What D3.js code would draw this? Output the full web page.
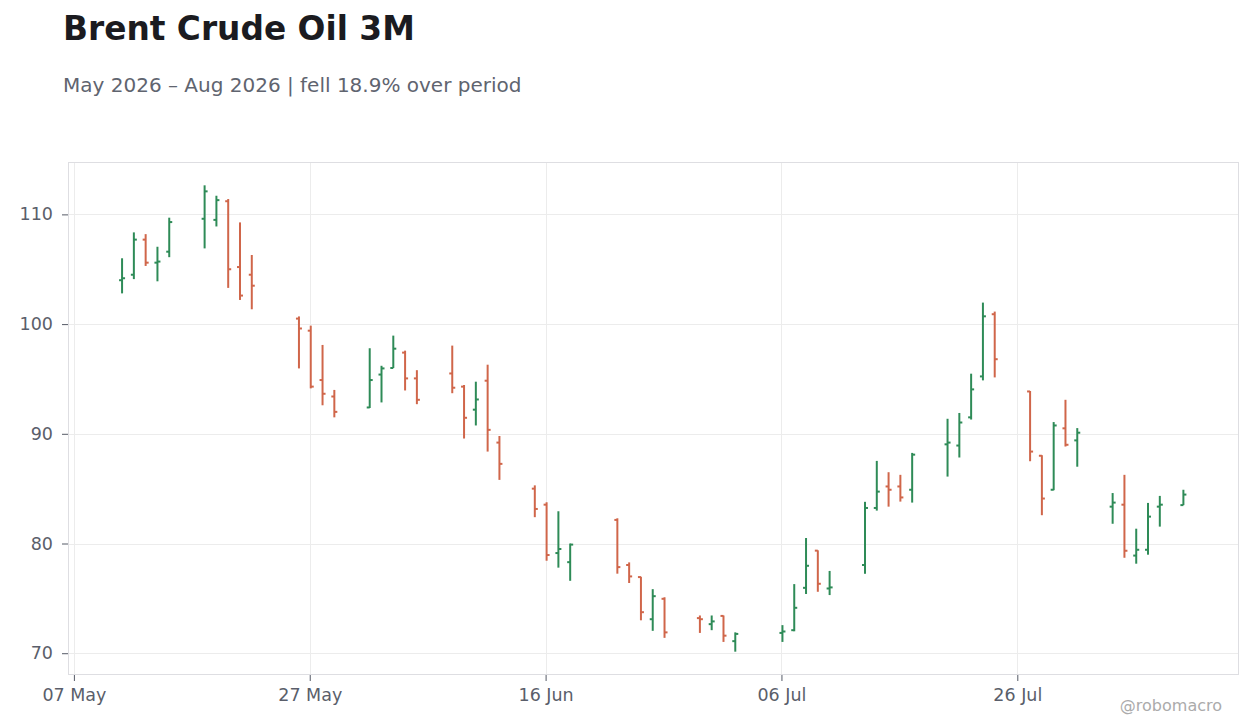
<!DOCTYPE html>
<html>
<head>
<meta charset="utf-8">
<script src="https://cdn.jsdelivr.net/npm/d3@7"></script>
<style>
  html, body { margin: 0; padding: 0; background: #ffffff; }
  svg { display: block; font-family: "DejaVu Sans", sans-serif; }
</style>
</head>
<body>
<svg id="chart" width="1260" height="728"></svg>
<script>
const dates = ["2026-05-11","2026-05-12","2026-05-13","2026-05-14","2026-05-15",
  "2026-05-18","2026-05-19","2026-05-20","2026-05-21","2026-05-22",
  "2026-05-26","2026-05-27","2026-05-28","2026-05-29",
  "2026-06-01","2026-06-02","2026-06-03","2026-06-04","2026-06-05",
  "2026-06-08","2026-06-09","2026-06-10","2026-06-11","2026-06-12",
  "2026-06-15","2026-06-16","2026-06-17","2026-06-18",
  "2026-06-22","2026-06-23","2026-06-24","2026-06-25","2026-06-26",
  "2026-06-29","2026-06-30","2026-07-01","2026-07-02",
  "2026-07-06","2026-07-07","2026-07-08","2026-07-09","2026-07-10",
  "2026-07-13","2026-07-14","2026-07-15","2026-07-16","2026-07-17",
  "2026-07-20","2026-07-21","2026-07-22","2026-07-23","2026-07-24",
  "2026-07-27","2026-07-28","2026-07-29","2026-07-30","2026-07-31",
  "2026-08-03","2026-08-04","2026-08-05","2026-08-06","2026-08-07",
  "2026-08-09"];
const open  = [104.0,104.5,107.7,105.6,106.6, 109.6,109.5,111.2,105.2,104.5, 100.5,99.4,94.9,93.4,
  92.4,95.4,96.0,97.4,95.05, 95.5,94.3,92.2,94.84,89.2, 85.0,83.54,79.13,78.3,
  82.15,78.04,76.94,73.1,74.96, 73.2,72.65,73.4,71.1, 71.85,72.1,75.96,79.35,75.9,
  78.04,83.24,85.2,85.2,84.9, 89.04,88.93,91.5,95.23,100.9, 93.86,88.0,84.9,90.5,89.4,
  83.36,83.54,78.9,79.43,83.36, 83.5];
const high  = [106.0,108.36,108.2,107.05,109.7, 112.65,111.7,111.4,109.27,106.3, 100.7,99.86,98.1,94.0,
  97.8,96.2,98.95,97.58,95.8, 98.04,94.45,94.75,96.3,89.8, 85.3,83.76,82.94,80.0,
  82.3,78.28,76.97,75.84,75.1, 73.44,73.44,73.44,71.9, 72.56,76.3,80.5,79.38,77.5,
  83.8,87.53,86.5,86.26,88.26, 91.37,91.9,95.48,101.96,101.14, 93.9,88.05,91.07,93.1,90.52,
  84.6,86.26,81.35,83.7,84.34, 84.9];
const low   = [102.8,104.1,105.3,103.9,106.1, 106.9,108.9,103.3,102.2,101.35, 95.96,94.14,92.6,91.5,
  92.35,92.86,96.0,93.95,92.7, 93.7,89.57,90.76,88.38,85.8, 82.4,78.43,77.8,76.6,
  77.25,76.4,73.0,72.04,71.4, 71.85,72.1,71.03,70.14, 71.03,72.0,75.4,75.6,75.3,
  77.24,83.0,83.36,83.82,83.73, 86.1,87.84,91.3,94.87,95.14, 87.5,82.58,84.86,88.84,87.0,
  81.8,78.7,78.16,78.98,81.54, 83.5];
const close = [104.18,107.7,105.6,105.7,109.3, 112.1,111.3,105.0,102.6,103.5, 99.6,94.3,93.65,92.0,
  94.9,95.96,97.76,95.05,93.1, 94.2,91.46,93.13,90.36,87.26, 83.15,78.95,79.5,79.9,
  77.85,77.0,73.74,75.2,71.9, 73.1,72.9,71.6,71.76, 71.98,74.14,77.97,76.33,76.0,
  83.24,84.73,84.9,84.2,88.1, 89.2,91.03,94.05,100.71,96.8, 88.38,84.1,90.76,89.0,90.1,
  83.73,79.34,79.43,82.45,83.54, 84.46];
const xTickLabels = ["2026-05-07","2026-05-27","2026-06-16","2026-07-06","2026-07-26"];
const yTicks = [70, 80, 90, 100, 110];

const W = 1260, H = 728;
const M = { left: 68, right: 21, top: 162, bottom: 53 };
const UP = "#2e8b57", DOWN = "#d0664a";

const parse = d3.utcParse("%Y-%m-%d");
const rows = dates.map((d, i) => ({ date: parse(d), o: open[i], h: high[i], l: low[i], c: close[i] }));

const svg = d3.select("#chart");
const DAY = 864e5;
const [d0, d1] = d3.extent(rows, r => r.date);
const x = d3.scaleUtc()
  .domain([new Date(+d0 - 4.5 * DAY), new Date(+d1 + 4.8 * DAY)])
  .range([M.left, W - M.right]);
const yMin = d3.min(low), yMax = d3.max(high), pad = (yMax - yMin) * 0.05;
const y = d3.scaleLinear()
  .domain([yMin - pad, yMax + pad])
  .range([H - M.bottom, M.top]);

// title & subtitle
svg.append("text").attr("x", 63).attr("y", 40)
  .attr("font-size", 32.8).attr("font-weight", "bold").attr("fill", "#1b1b20")
  .text("Brent Crude Oil 3M");
svg.append("text").attr("x", 63).attr("y", 92)
  .attr("font-size", 20).attr("fill", "#60646f")
  .text("May 2026 \u2013 Aug 2026 | fell 18.9% over period");

// grid
const g = svg.append("g");
g.selectAll("line.hg").data(yTicks).join("line")
  .attr("x1", M.left).attr("x2", W - M.right)
  .attr("y1", d => Math.round(y(d)) + 0.5).attr("y2", d => Math.round(y(d)) + 0.5)
  .attr("stroke", "#ececec");
g.selectAll("line.vg").data(xTickLabels.map(parse)).join("line")
  .attr("y1", M.top).attr("y2", H - M.bottom)
  .attr("x1", d => Math.round(x(d)) + 0.5).attr("x2", d => Math.round(x(d)) + 0.5)
  .attr("stroke", "#ececec");

// frame
svg.append("rect")
  .attr("x", M.left + 0.5).attr("y", M.top + 0.5)
  .attr("width", W - M.left - M.right - 1).attr("height", H - M.top - M.bottom - 1)
  .attr("fill", "none").attr("stroke", "#dedee2");

// axes
const xAxis = d3.axisBottom(x)
  .tickValues(xTickLabels.map(parse))
  .tickFormat(d3.utcFormat("%d %b"))
  .tickSize(6).tickPadding(8);
const gx = svg.append("g").attr("transform", `translate(0,${H - M.bottom})`).call(xAxis);
gx.select(".domain").remove();
gx.selectAll(".tick line").attr("stroke", "#555a66");
gx.selectAll(".tick text").attr("fill", "#5a5e6a").attr("font-size", 17.5)
  .attr("font-family", "DejaVu Sans, sans-serif");

const yAxis = d3.axisLeft(y).tickValues(yTicks).tickSize(6).tickPadding(9);
const gy = svg.append("g").attr("transform", `translate(${M.left},0)`).call(yAxis);
gy.select(".domain").remove();
gy.selectAll(".tick line").attr("stroke", "#555a66");
gy.selectAll(".tick text").attr("fill", "#5a5e6a").attr("font-size", 17.5)
  .attr("font-family", "DejaVu Sans, sans-serif");

// OHLC bars
const bars = svg.append("g").selectAll("g.bar").data(rows).join("g")
  .attr("stroke", d => d.c >= d.o ? UP : DOWN)
  .attr("stroke-width", 2);
bars.append("line")
  .attr("x1", d => x(d.date) + 1).attr("x2", d => x(d.date) + 1)
  .attr("y1", d => y(d.h)).attr("y2", d => y(d.l));
bars.append("line")
  .attr("x1", d => x(d.date) - 2).attr("x2", d => x(d.date) + 1)
  .attr("y1", d => y(d.o)).attr("y2", d => y(d.o));
bars.append("line")
  .attr("x1", d => x(d.date) + 1).attr("x2", d => x(d.date) + 4)
  .attr("y1", d => y(d.c)).attr("y2", d => y(d.c));

// watermark
svg.append("text").attr("x", 1222).attr("y", 711).attr("text-anchor", "end")
  .attr("font-size", 16).attr("fill", "#ababab")
  .text("@robomacro");
</script>
</body>
</html>
